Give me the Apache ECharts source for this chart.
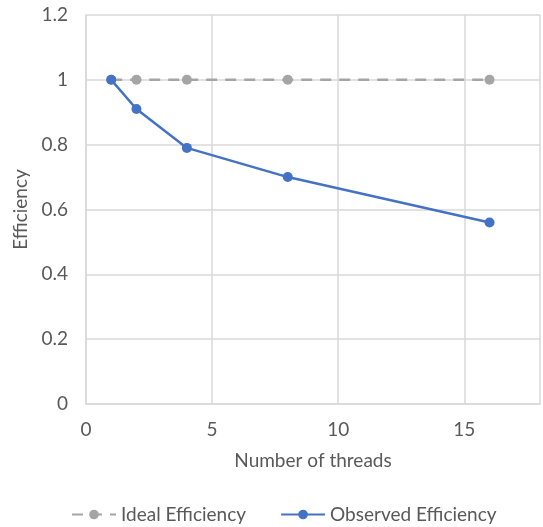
<!DOCTYPE html>
<html>
<head>
<meta charset="utf-8">
<script src="https://cdn.jsdelivr.net/npm/echarts@6/dist/echarts.min.js"></script>
<style>
  html, body { margin: 0; padding: 0; overflow: hidden; background: #fff; }
  #chart { width: 543px; height: 527px; }
</style>
</head>
<body>
<div id="chart"></div>
<script>
// Thread counts and measured parallel efficiency
const threads = [1, 2, 4, 8, 16];
const idealEfficiency = [1, 1, 1, 1, 1];
const observedEfficiency = [1, 0.91, 0.79, 0.70, 0.56];
const xTicks = [0, 5, 10, 15];
const yTicks = [0, 0.2, 0.4, 0.6, 0.8, 1, 1.2];

const textColor = '#595959';
const gridColor = '#D9D9D9';
const font = 'Lato';

const chart = echarts.init(document.getElementById('chart'));
chart.setOption({
  animation: false,
  textStyle: { fontFamily: font },
  grid: { left: 86, right: 0, top: 15, bottom: 123 },
  legend: {
    left: 66, top: 500,
    itemWidth: 44, itemHeight: 12, itemGap: 34,
    textStyle: { color: textColor, fontSize: 19, fontFamily: font },
    data: ['Ideal Efficiency', 'Observed Efficiency']
  },
  xAxis: {
    type: 'value', min: 0, max: 18, interval: 5,
    name: 'Number of threads', nameLocation: 'middle', nameGap: 47,
    nameTextStyle: { color: textColor, fontSize: 19 },
    axisLine: { lineStyle: { color: gridColor, width: 1.5 } },
    axisTick: { show: false },
    axisLabel: {
      color: textColor, fontSize: 19, margin: 16,
      formatter: v => xTicks.includes(v) ? String(v) : ''
    },
    splitLine: { lineStyle: { color: gridColor, width: 1.5 } }
  },
  yAxis: {
    type: 'value', min: 0, max: 1.2, interval: 0.2,
    name: 'Efficiency', nameLocation: 'middle', nameGap: 54,
    nameTextStyle: { color: textColor, fontSize: 19 },
    axisLine: { show: true, lineStyle: { color: gridColor, width: 1.5 } },
    axisTick: { show: false },
    axisLabel: {
      color: textColor, fontSize: 19, margin: 18,
      formatter: v => {
        const t = yTicks.find(k => Math.abs(k - v) < 1e-9);
        return t === undefined ? '' : String(t);
      }
    },
    splitLine: { lineStyle: { color: gridColor, width: 1.5 } }
  },
  series: [
    {
      name: 'Ideal Efficiency', type: 'line',
      data: threads.map((t, i) => [t, idealEfficiency[i]]),
      symbol: 'circle', symbolSize: 10,
      itemStyle: { color: '#A5A5A5' },
      lineStyle: { color: '#A5A5A5', width: 2.5, type: [11, 8] },
      z: 2
    },
    {
      name: 'Observed Efficiency', type: 'line',
      data: threads.map((t, i) => [t, observedEfficiency[i]]),
      symbol: 'circle', symbolSize: 10,
      itemStyle: { color: '#4472C4' },
      lineStyle: { color: '#4472C4', width: 2.5 },
      z: 3
    }
  ]
});
</script>
</body>
</html>
